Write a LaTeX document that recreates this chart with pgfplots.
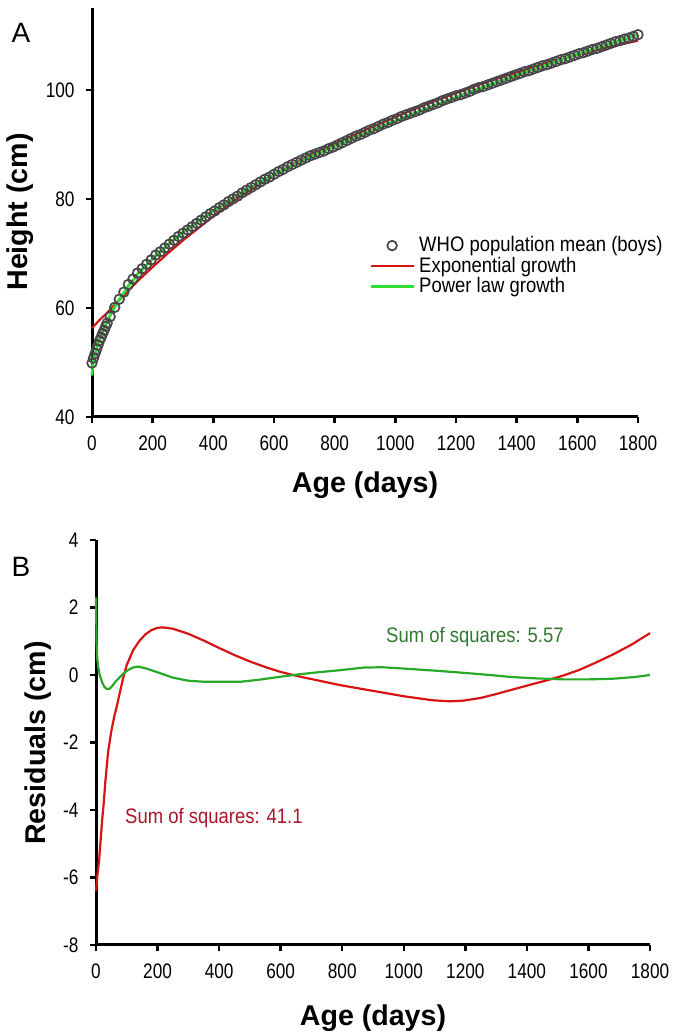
\documentclass[border=0pt]{standalone}
\usepackage{fontspec}
\setmainfont{Liberation Sans}
\newfontfamily\tickfont[FakeStretch=0.82]{Liberation Sans}
\newfontfamily\legfont[FakeStretch=0.88]{Liberation Sans}
\usepackage{pgfplots}
\pgfplotsset{compat=1.18}

\definecolor{fitred}{RGB}{215,20,20}
\definecolor{fitgreen}{RGB}{50,222,50}
\definecolor{resgreen}{RGB}{40,170,40}
\definecolor{txtred}{RGB}{170,20,40}
\definecolor{txtgreen}{RGB}{50,120,50}
\definecolor{markgray}{RGB}{70,70,70}

\pgfplotsset{panel/.style={
  scale only axis, clip=false,
  axis x line=bottom, axis y line=left,
  axis line style={-, line width=1.5pt},
  major tick style={black, line width=1.2pt},
  tick align=outside, major tick length=3.2pt,
  tick label style={font=\tickfont\fontsize{10.5}{10.5}\selectfont},
  xticklabel style={yshift=-2.5pt},
  yticklabel style={xshift=-2pt},
  /pgf/number format/assume math mode=true,
  /pgf/number format/1000 sep={},
  scaled ticks=false,
  xmin=0, xmax=1800, xtick={0,200,...,1800},
}}

\begin{document}
\begin{tikzpicture}
\path[use as bounding box] (0,0) rectangle (337.5pt,518pt);

% ---------- panel A ----------
\begin{axis}[panel,
  at={(46pt,309.5pt)}, anchor=south west,
  width=273pt, height=204.5pt,
  ymin=40, ymax=115, ytick={40,60,80,100},
  legend style={at={(0.496,0.455)}, anchor=north west, draw=none, fill=none,
    font=\legfont\fontsize{10.5}{11}\selectfont, row sep=0pt, column sep=1.5pt,
    nodes={inner sep=0.6pt}},
  legend cell align=left,
  legend image code/.code={\draw[mark repeat=2,mark phase=2,#1]
    plot coordinates {(0pt,0pt) (10.75pt,0pt) (21.5pt,0pt)};},
]
\addplot[only marks, mark=o, mark size=2.4pt,
  mark options={markgray, line width=0.85pt}] coordinates {
  (0,49.9) (5,50.8) (10,51.6) (15,52.4) (20,53.2) (25,54.0) (30,54.6)
  (35,55.3) (40,55.9) (45,56.6) (50,57.2) (60,58.4) (75,60.1) (90,61.6)
  (105,62.9) (120,64.3) (135,65.3) (150,66.4) (165,67.2) (180,68.0)
  (195,68.8) (210,69.7) (225,70.3) (240,71.0) (255,71.7) (270,72.4)
  (285,73.1) (300,73.7) (315,74.3) (330,74.9) (345,75.5) (360,76.1)
  (375,76.7) (390,77.3) (405,77.8) (420,78.4) (435,78.9) (450,79.5)
  (465,80.0) (480,80.5) (495,81.1) (510,81.6) (525,82.1) (540,82.6)
  (555,83.1) (570,83.6) (585,84.0) (600,84.5) (615,85.0) (630,85.4)
  (645,85.9) (660,86.3) (675,86.7) (690,87.1) (705,87.5) (720,87.9)
  (735,88.2) (750,88.5) (765,88.8) (780,89.2) (795,89.5) (810,89.9)
  (825,90.3) (840,90.7) (855,91.1) (870,91.5) (885,91.8) (900,92.2)
  (915,92.6) (930,92.9) (945,93.3) (960,93.7) (975,94.0) (990,94.4)
  (1005,94.7) (1020,95.1) (1035,95.4) (1050,95.7) (1065,96.0) (1080,96.3)
  (1095,96.7) (1110,97.0) (1125,97.3) (1140,97.6) (1155,98.0) (1170,98.3)
  (1185,98.6) (1200,98.9) (1215,99.1) (1230,99.4) (1245,99.7) (1260,100.1)
  (1275,100.4) (1290,100.6) (1305,100.9) (1320,101.2) (1335,101.5)
  (1350,101.8) (1365,102.1) (1380,102.4) (1395,102.7) (1410,103.0)
  (1425,103.3) (1440,103.5) (1455,103.8) (1470,104.1) (1485,104.4)
  (1500,104.6) (1515,104.9) (1530,105.2) (1545,105.5) (1560,105.7)
  (1575,106.0) (1590,106.3) (1605,106.6) (1620,106.8) (1635,107.1)
  (1650,107.4) (1665,107.6) (1680,107.9) (1695,108.2) (1710,108.5)
  (1725,108.8) (1740,109.0) (1755,109.3) (1770,109.5) (1785,109.8)
  (1800,110.1)
};
\addlegendentry{WHO population mean (boys)}
\addplot[fitred, line width=1.1pt] coordinates {
  (0,56.3) (25,57.8) (50,59.1) (75,60.6) (100,62.0) (150,64.9) (200,67.5)
  (250,70.0) (300,72.4) (350,74.6) (400,76.8) (450,78.9) (500,80.8)
  (550,82.6) (600,84.4) (700,87.5) (800,90.1) (900,92.6) (1000,95.0)
  (1100,97.3) (1200,99.4) (1300,101.4) (1400,103.2) (1500,104.9)
  (1600,106.4) (1700,107.8) (1800,109.0)
};
\addlegendentry{Exponential growth}
\addplot[fitgreen, line width=1.4pt] coordinates {
  (0,47.6) (2,49.35) (5,50.4) (10,51.55) (15,52.5) (20,53.4) (30,55.0)
  (40,56.3) (50,57.55) (60,58.65) (75,60.2) (90,61.55) (105,62.75)
  (120,64.1) (137,65.15) (150,66.2) (200,69.0) (250,71.6) (300,73.9)
  (400,77.8) (500,81.3) (600,84.5) (700,87.2) (800,89.7) (900,92.0)
  (1000,94.3) (1100,96.5) (1200,98.6) (1300,100.7) (1400,102.7)
  (1500,104.6) (1600,106.5) (1700,108.3) (1800,110.1)
};
\addlegendentry{Power law growth}
\end{axis}

% ---------- panel B ----------
\begin{axis}[panel,
  at={(48pt,45.5pt)}, anchor=south west,
  width=277pt, height=202.5pt,
  ymin=-8, ymax=4, ytick={-8,-6,...,4},
]
\addplot[fitred, line width=1.1pt] coordinates {
  (0,-6.4) (5,-5.9) (10,-5.5) (15,-4.9) (20,-4.3) (25,-3.8) (30,-3.2)
  (39,-2.3) (50,-1.65) (60,-1.2) (67,-0.95) (78,-0.5) (89,-0.06) (100,0.3)
  (121,0.74) (140,1.0) (160,1.2) (180,1.33) (200,1.4) (220,1.41) (250,1.37)
  (300,1.22) (350,1.02) (400,0.8) (450,0.59) (500,0.4) (555,0.22) (600,0.09)
  (663,-0.05) (700,-0.12) (793,-0.3) (868,-0.42) (950,-0.55) (1000,-0.63)
  (1095,-0.75) (1150,-0.78) (1193,-0.76) (1250,-0.68) (1302,-0.56)
  (1350,-0.44) (1410,-0.29) (1460,-0.17) (1517,-0.02) (1570,0.15)
  (1627,0.38) (1680,0.61) (1740,0.9) (1800,1.24)
};
\addplot[resgreen, line width=1.1pt] coordinates {
  (0,2.3) (1,1.6) (2,0.9) (4,0.5) (7,0.25) (12,0.0) (20,-0.22) (28,-0.36)
  (36,-0.42) (45,-0.4) (55,-0.3) (65,-0.18) (78,-0.06) (90,0.05) (105,0.15)
  (120,0.22) (137,0.25) (160,0.2) (200,0.08) (250,-0.08) (300,-0.17)
  (350,-0.2) (400,-0.2) (470,-0.2) (530,-0.14) (600,-0.05) (660,0.02)
  (720,0.08) (790,0.14) (870,0.22) (930,0.23) (1000,0.19) (1100,0.13)
  (1200,0.06) (1280,0.0) (1350,-0.06) (1430,-0.1) (1520,-0.13)
  (1600,-0.13) (1680,-0.11) (1750,-0.06) (1800,0.0)
};
\node[txtred, font=\legfont\fontsize{10.5}{11}\selectfont]
  at (axis cs:383,-4.24) {Sum of squares: 41.1};
\node[txtgreen, font=\legfont\fontsize{10.5}{11}\selectfont]
  at (axis cs:1231,1.13) {Sum of squares: 5.57};
\end{axis}

% ---------- panel letters and axis titles ----------
\node[font=\fontsize{14}{14}\selectfont] at (10.5pt,501.5pt) {A};
\node[font=\fontsize{14}{14}\selectfont] at (10.5pt,234.5pt) {B};
\node[rotate=90, font=\bfseries\fontsize{14.3}{15}\selectfont]
  at (10.25pt,412pt) {Height (cm)};
\node[rotate=90, font=\bfseries\fontsize{14.3}{15}\selectfont]
  at (19.25pt,146.5pt) {Residuals (cm)};
\node[font=\bfseries\fontsize{14.3}{15}\selectfont]
  at (182.5pt,275.5pt) {Age (days)};
\node[font=\bfseries\fontsize{14.3}{15}\selectfont]
  at (186.5pt,8.75pt) {Age (days)};
\end{tikzpicture}
\end{document}
